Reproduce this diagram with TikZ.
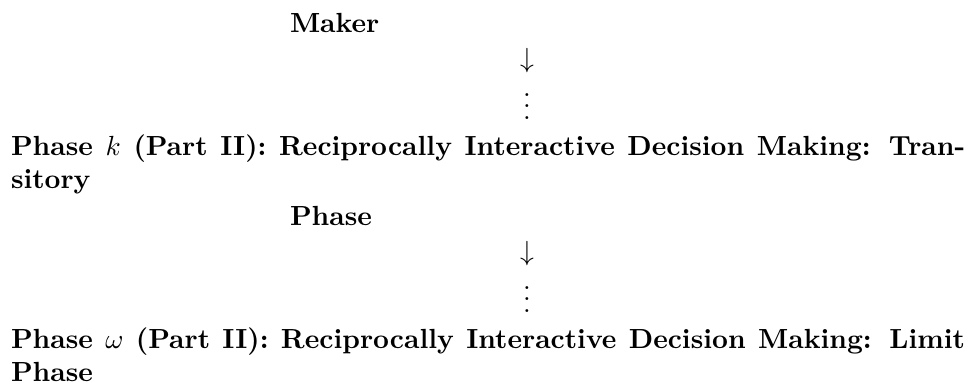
\documentclass[tikz,border=0pt]{standalone}
\tikzset{
  txt/.style={anchor=base west, inner sep=0pt, outer sep=0pt, font=\bfseries},
  glyph/.style={anchor=base, inner sep=0pt, outer sep=0pt}
}
\begin{document}
\begin{tikzpicture}[x=0.3616pt, y=-0.3616pt]
\useasboundingbox (0,0) rectangle (968,385);
\node[txt] (maker) at (290,32) {Maker};
\node[glyph] (arr1) at (527,67) {$\downarrow$};
\node[glyph] (dots1) at (527,119) {$\vdots$};
\node[txt] (phk) at (11,155) {\makebox[345pt][s]{Phase $k$ (Part II): Reciprocally Interactive Decision Making: Tran-}};
\node[txt] (sit) at (11,188) {sitory};
\node[txt] (ph1) at (290,225) {Phase};
\node[glyph] (arr2) at (527,260) {$\downarrow$};
\node[glyph] (dots2) at (527,312) {$\vdots$};
\node[txt] (phw) at (11,348) {\makebox[345pt][s]{Phase $\omega$ (Part II): Reciprocally Interactive Decision Making: Limit}};
\node[txt] (ph2) at (11,381) {Phase};
\end{tikzpicture}
\end{document}
